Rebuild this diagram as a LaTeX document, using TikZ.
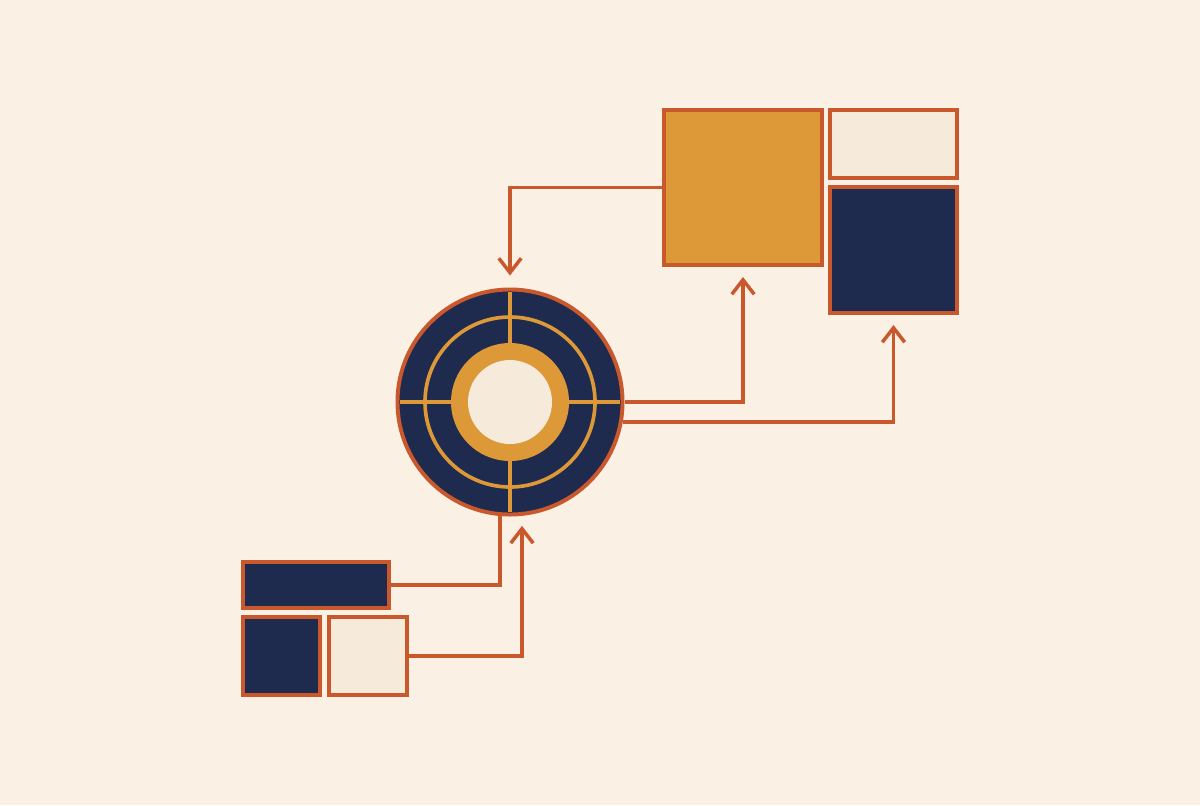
\documentclass[tikz,border=0pt]{standalone}
\usepackage{tikz}
\usetikzlibrary{arrows.meta}
\definecolor{paper}{HTML}{FAF0E4}
\definecolor{rust}{HTML}{C9582C}
\definecolor{navy}{HTML}{1E2B4E}
\definecolor{ochre}{HTML}{DD9838}
\definecolor{shell}{HTML}{F6EADA}
\tikzset{>={Straight Barb[length=3.6mm,width=5.6mm,line width=2.5pt]}}

\begin{document}
\begin{tikzpicture}[x=0.025cm,y=-0.025cm,
    block/.style={draw=rust,line width=2.8pt,inner sep=0pt},
    link/.style={draw=rust,line width=2.5pt},
    ring/.style={draw=ochre,line width=2.6pt}]
            \fill[paper] (0,0) rectangle (1200,805);
            \node[block,fill=ochre,minimum width=3.95cm,minimum height=3.875cm] (gold) at (743,187.5) {};
            \node[block,fill=shell,minimum width=3.175cm,minimum height=1.7cm] (topshell) at (893.5,144) {};
            \node[block,fill=navy,minimum width=3.175cm,minimum height=3.15cm] (topnavy) at (893.5,250) {};
            \node[block,fill=navy,minimum width=3.65cm,minimum height=1.15cm] (barnavy) at (316,585) {};
            \node[block,fill=navy,minimum width=1.925cm,minimum height=1.95cm] (sqnavy) at (281.5,656) {};
            \node[block,fill=shell,minimum width=1.95cm,minimum height=1.95cm] (sqshell) at (368,656) {};
            \node[circle,draw=rust,fill=navy,line width=2.8pt,minimum size=5.625cm,inner sep=0pt] (hub) at (510,402) {};
            \draw[ring] (hub.center) circle (85);
            \draw[ring] ([yshift=-2.75cm]hub.center) -- ([yshift=2.75cm]hub.center);
            \draw[ring] ([xshift=-2.75cm]hub.center) -- ([xshift=2.75cm]hub.center);
            \fill[ochre] (hub.center) circle (59);
            \fill[shell] (hub.center) circle (42);
            \draw[link,->,shorten >=0.3cm] (gold.west) -| (hub.north);
            \draw[link,->,shorten >=0.25cm] (hub.east) -| (gold.south);
            \draw[link,->,shorten >=0.25cm] (hub.-10) -| (topnavy.south);
            \draw[link] (barnavy.east) -| (hub.265);
            \draw[link,->,shorten >=0.25cm] (sqshell.east) -| (hub.276);
        \end{tikzpicture}
\end{document}
